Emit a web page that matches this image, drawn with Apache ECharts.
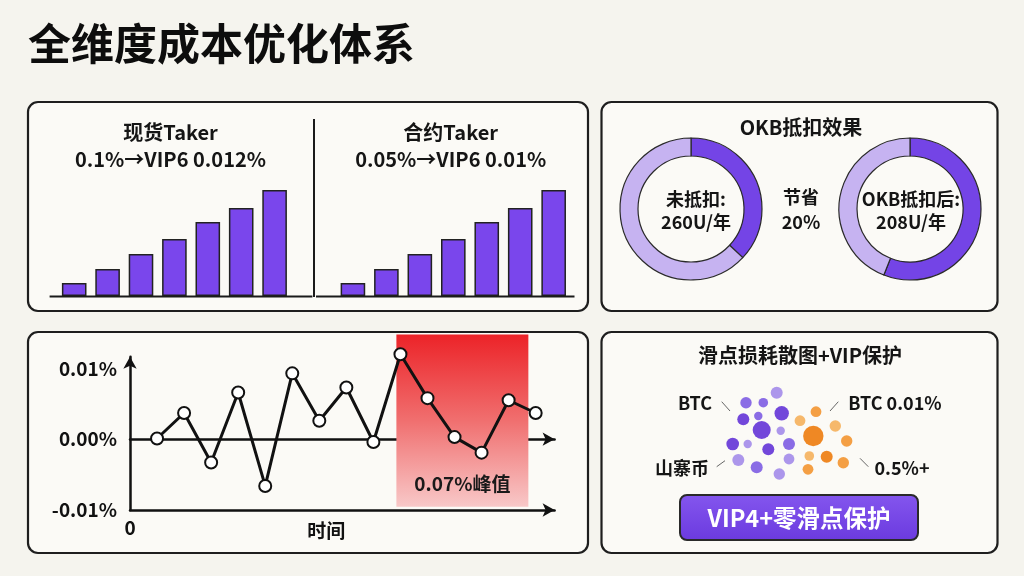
<!DOCTYPE html>
<html>
<head>
<meta charset="utf-8">
<script src="https://cdn.jsdelivr.net/npm/echarts@6/dist/echarts.min.js"></script>
<style>
html, body { margin: 0; padding: 0; background: #f5f4ee; }
#main { width: 1024px; height: 576px; }
</style>
</head>
<body>
<div id="main"></div>
<script>
var FONT = '"Noto Sans CJK SC", "Noto Sans", sans-serif';

// fee tiers (bar heights, relative)
var tierCats = ['VIP0', 'VIP1', 'VIP2', 'VIP3', 'VIP4', 'VIP5', 'VIP6'];
var spotBars = [13, 27, 42, 57, 74, 88, 106];
var futureBars = [13, 27, 42, 57, 74, 88, 106];

// OKB donuts: [dark part, light part]
var okbBefore = [37, 63];
var okbAfter = [56, 44];

// slippage over time (%)
var slipX = [1, 2, 3, 4, 5, 6, 7, 8, 9, 10, 11, 12, 13, 14, 15];
var slipY = [0.0001, 0.0037, -0.0033, 0.0066, -0.0066, 0.0093, 0.0026, 0.0073, -0.0004, 0.0120, 0.0058, 0.0003, -0.0019, 0.0055, 0.0037];
var yTickValues = [-0.01, 0, 0.01];
var yTickLabels = ['-0.01%', '0.00%', '0.01%'];
var peakBand = [9.85, 14.73];

// scatter clusters: [x, y, size, tone]
var slipPurple = [
    [5.67, 8.73, 10, 2], [2.6, 7.73, 9.5, 1], [4.33, 7.73, 8, 1], [2.33, 6.07, 10, 0],
    [3.83, 6.4, 7, 1], [6.17, 6.67, 12, 0], [4.17, 5.0, 15, 0], [6.07, 4.93, 7, 2],
    [1.27, 3.6, 10.5, 0], [2.77, 3.6, 7, 2], [4.83, 3.07, 10, 0], [6.9, 3.6, 10, 1],
    [1.83, 2.0, 10, 2], [3.67, 1.27, 10, 1], [6.9, 2.1, 9, 2], [5.93, 0.6, 9.5, 2]
];
var slipOrange = [
    [8.0, 5.93, 9, 2], [9.6, 6.83, 9, 1], [9.33, 4.4, 17, 0], [11.53, 5.4, 9.5, 2],
    [12.67, 3.9, 9.5, 1], [8.93, 2.4, 8, 2], [10.67, 2.33, 10, 0], [12.33, 1.73, 9.5, 1],
    [8.8, 1.07, 9, 1]
];

var purpleTones = ['#6a3dd8', '#8464e4', '#a890ea'];
var orangeTones = ['#ee8218', '#f39a3a', '#f6b463'];

function txt(text, x, y, size, weight, align, color) {
    return {
        type: 'text', z: 100,
        style: {
            text: text, x: x, y: y,
            fontSize: size, fontWeight: weight || 'bold', fontFamily: FONT,
            fill: color || '#151515',
            textAlign: align || 'center', textVerticalAlign: 'middle',
            align: align || 'center', verticalAlign: 'middle'
        }
    };
}
function panel(x, y, w, h) {
    return {
        type: 'rect', z: 0,
        shape: { x: x, y: y, width: w, height: h, r: 10 },
        style: { fill: '#fbfaf6', stroke: '#1e1e1e', lineWidth: 2.2 }
    };
}
function seg(x1, y1, x2, y2, w, color) {
    return {
        type: 'line', z: 50,
        shape: { x1: x1, y1: y1, x2: x2, y2: y2 },
        style: { stroke: color || '#1a1a1a', lineWidth: w || 2 }
    };
}

var chart = echarts.init(document.getElementById('main'));

var barStyle = { color: '#7a46ec', borderColor: '#222', borderWidth: 1.5 };
var arrowLine = { symbol: ['none', 'arrow'], symbolSize: [10, 12], lineStyle: { color: '#111', width: 2.5 } };
var axisText = { fontSize: 19, color: '#111', fontFamily: FONT, fontWeight: 'bold' };

var option = {
    backgroundColor: '#f5f4ee',
    animation: false,
    grid: [
        { left: 57.5, top: 176, width: 233.8, height: 120 },
        { left: 336.2, top: 176, width: 234.2, height: 120 },
        { left: 130, top: 356.7, width: 424.6, height: 153.3 },
        { left: 720, top: 385, width: 140, height: 95 },
        { left: 130, top: 333, width: 424.6, height: 177 }
    ],
    xAxis: [
        { gridIndex: 0, type: 'category', data: tierCats, show: false },
        { gridIndex: 1, type: 'category', data: tierCats, show: false },
        {
            gridIndex: 2, type: 'value', min: 0, max: 15.7, position: 'bottom',
            axisLine: echarts.util.merge({ onZero: true }, arrowLine, true),
            axisTick: { show: false }, axisLabel: { show: false }, splitLine: { show: false }
        },
        {
            gridIndex: 2, type: 'value', min: 0, max: 15.7, position: 'bottom',
            axisLine: echarts.util.merge({ onZero: false }, arrowLine, true),
            axisTick: { show: false }, splitLine: { show: false },
            axisLabel: echarts.util.merge({
                margin: 8, showMaxLabel: false,
                formatter: function(v) { return v === 0 ? '0' : ''; }
            }, axisText, true),
            name: '时间', nameLocation: 'middle', nameGap: 11, nameMoveOverlap: false,
            nameTextStyle: echarts.util.merge({ verticalAlign: 'top', padding: [0, 32, 0, 0] }, axisText, true)
        },
        { gridIndex: 3, type: 'value', min: 0, max: 14, show: false },
        { gridIndex: 4, type: 'value', min: 0, max: 15.7, show: false }
    ],
    yAxis: [
        { gridIndex: 0, type: 'value', min: 0, max: 120, show: false },
        { gridIndex: 1, type: 'value', min: 0, max: 120, show: false },
        {
            gridIndex: 2, type: 'value', min: -0.01, max: 0.011653, interval: 0.01,
            axisLine: echarts.util.merge({ show: true, onZero: false }, arrowLine, true),
            axisTick: { show: false }, splitLine: { show: false },
            axisLabel: echarts.util.merge({
                margin: 13, showMaxLabel: false,
                formatter: function(v) {
                    for (var i = 0; i < yTickValues.length; i++) {
                        if (Math.abs(v - yTickValues[i]) < 1e-6) return yTickLabels[i];
                    }
                    return '';
                }
            }, axisText, true)
        },
        { gridIndex: 3, type: 'value', min: 0, max: 9.5, show: false },
        { gridIndex: 4, type: 'value', min: -0.01, max: 0.015, show: false }
    ],
    series: [
        { type: 'bar', xAxisIndex: 0, yAxisIndex: 0, data: spotBars, barWidth: 24.6, itemStyle: barStyle, z: 5 },
        { type: 'bar', xAxisIndex: 1, yAxisIndex: 1, data: futureBars, barWidth: 24.6, itemStyle: barStyle, z: 5 },
        {
            type: 'pie', center: [691, 209], radius: [53, 71], startAngle: 90, clockwise: true,
            label: { show: false }, labelLine: { show: false }, silent: true,
            itemStyle: { borderColor: '#2a2a2a', borderWidth: 1.2 },
            data: [
                { value: okbBefore[0], itemStyle: { color: '#7444e6' } },
                { value: okbBefore[1], itemStyle: { color: '#c6b3f1' } }
            ]
        },
        {
            type: 'pie', center: [910, 209], radius: [53, 71], startAngle: 90, clockwise: true,
            label: { show: false }, labelLine: { show: false }, silent: true,
            itemStyle: { borderColor: '#2a2a2a', borderWidth: 1.2 },
            data: [
                { value: okbAfter[0], itemStyle: { color: '#7444e6' } },
                { value: okbAfter[1], itemStyle: { color: '#c6b3f1' } }
            ]
        },
        {
            // peak band, on a taller twin grid so it reaches the panel top
            type: 'line', xAxisIndex: 5, yAxisIndex: 4, z: 3, silent: true,
            data: slipX.map(function(x, i) { return [x, slipY[i]]; }),
            showSymbol: false, lineStyle: { opacity: 0 },
            markArea: {
                silent: true,
                itemStyle: {
                    color: new echarts.graphic.LinearGradient(0, 0, 0, 1, [
                        { offset: 0, color: '#ec2328' },
                        { offset: 0.5, color: '#f06f6f' },
                        { offset: 1, color: '#f8c8c8' }
                    ])
                },
                label: {
                    show: true, position: 'insideBottom', distance: 13,
                    fontSize: 19, color: '#1a1a1a', fontFamily: FONT, fontWeight: 'bold'
                },
                data: [[
                    { name: '0.07%峰值', xAxis: peakBand[0], yAxis: -0.00953 },
                    { xAxis: peakBand[1], yAxis: 0.0148 }
                ]]
            }
        },
        {
            type: 'line', xAxisIndex: 3, yAxisIndex: 2, clip: false, z: 10,
            data: slipX.map(function(x, i) { return [x, slipY[i]]; }),
            symbol: 'circle', symbolSize: 12,
            lineStyle: { color: '#111', width: 3 },
            itemStyle: { color: '#fff', borderColor: '#111', borderWidth: 2 }
        },
        {
            type: 'scatter', xAxisIndex: 4, yAxisIndex: 3, z: 10,
            data: slipPurple,
            symbolSize: function(d) { return d[2] * 1.2; },
            itemStyle: { opacity: 0.95, color: function(p) { return purpleTones[p.data[3]]; } }
        },
        {
            type: 'scatter', xAxisIndex: 4, yAxisIndex: 3, z: 10,
            data: slipOrange,
            symbolSize: function(d) { return d[2] * 1.2; },
            itemStyle: { opacity: 0.95, color: function(p) { return orangeTones[p.data[3]]; } }
        }
    ],
    graphic: {
        elements: [
            panel(28, 102, 560, 209),
            panel(601.5, 102, 396, 209),
            panel(28, 332, 560, 221),
            panel(601.5, 332, 396, 221),
            txt('全维度成本优化体系', 28, 44, 43, 'bold', 'left', '#0d0d0d'),
            // panel 1
            txt('现货Taker', 170.5, 132, 20),
            txt('0.1%→VIP6 0.012%', 170.5, 159, 20),
            txt('合约Taker', 450.7, 132, 20),
            txt('0.05%→VIP6 0.01%', 450.7, 159, 20),
            seg(314, 119, 314, 297, 2),
            seg(49.6, 296.5, 312.4, 296.5, 2),
            seg(316, 296.5, 574.5, 296.5, 2),
            // panel 2
            txt('OKB抵扣效果', 801, 127, 20),
            txt('未抵扣:', 696, 199, 18),
            txt('260U/年', 696, 222, 18),
            txt('节省', 801, 197, 18),
            txt('20%', 801, 222, 18),
            txt('OKB抵扣后:', 911, 199, 18),
            txt('208U/年', 911, 222, 18),
            // panel 4
            txt('滑点损耗散图+VIP保护', 800, 355, 20),
            txt('BTC', 695, 403, 18),
            txt('山寨币', 682, 468, 18),
            txt('BTC 0.01%', 895, 403, 18),
            txt('0.5%+', 902, 468, 18),
            seg(721.7, 401.7, 730, 411, 1, '#666'),
            seg(716.7, 466.7, 725, 460.7, 1, '#666'),
            seg(838.3, 401.7, 830, 411, 1, '#666'),
            seg(860, 458.3, 868.3, 466.7, 1, '#666'),
            {
                type: 'rect', z: 60,
                shape: { x: 680, y: 495, width: 238, height: 45, r: 7 },
                style: {
                    fill: new echarts.graphic.LinearGradient(0, 0, 0, 1, [
                        { offset: 0, color: '#8456ee' },
                        { offset: 1, color: '#6b3adf' }
                    ]),
                    stroke: '#2a2a2a', lineWidth: 2
                }
            },
            txt('VIP4+零滑点保护', 799, 518, 23.5, 'bold', 'center', '#ffffff')
        ]
    }
};

chart.setOption(option);
</script>
</body>
</html>
